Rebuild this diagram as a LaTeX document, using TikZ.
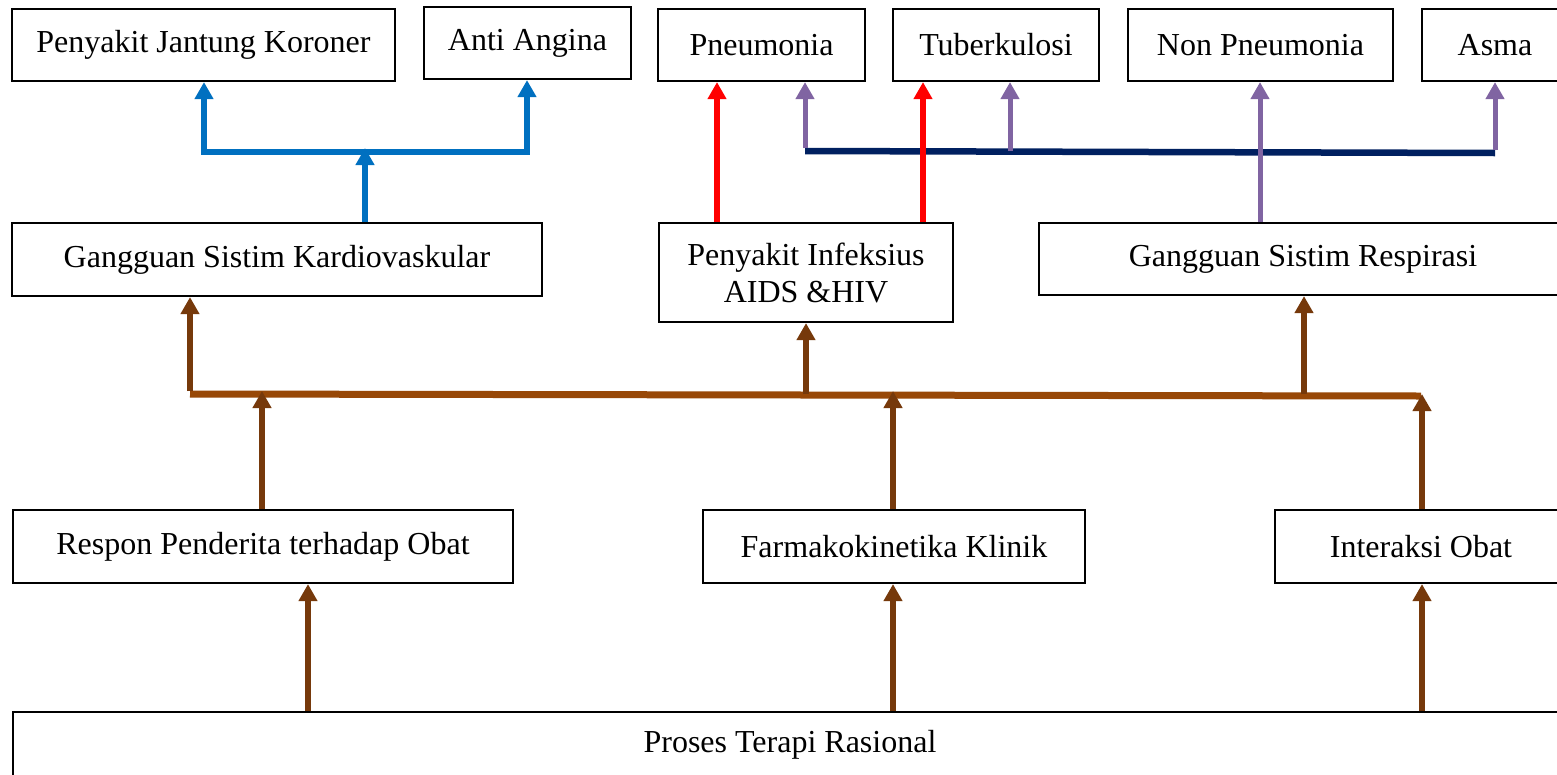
\documentclass[tikz,border=0pt]{standalone}
\usepackage{fontspec}
\setmainfont{Liberation Serif}
\usetikzlibrary{arrows.meta}
\definecolor{cblue}{HTML}{0070C0}
\definecolor{cred}{HTML}{FF0000}
\definecolor{cpurp}{HTML}{8064A2}
\definecolor{cnavy}{HTML}{002060}
\definecolor{cbrown}{HTML}{76390B}
\definecolor{cbus}{HTML}{984807}
\begin{document}
\begin{tikzpicture}[x=1pt,y=-1pt,
  box/.style={draw=black, line width=2.2pt, rectangle, inner sep=0pt,
    font=\fontsize{32}{37}\selectfont, align=center},
  arr/.style={line width=5.5pt, -{Triangle[length=17pt,width=18pt]}},
  brownarr/.style={arr, draw=cbrown},
  bluearr/.style={arr, draw=cblue},
  redarr/.style={arr, draw=cred},
  purparr/.style={arr, draw=cpurp, line width=5pt},
  brownbus/.style={draw=cbus, line width=7pt},
  navybus/.style={draw=cnavy, line width=6.5pt},
  bluebus/.style={draw=cblue, line width=5.5pt}]
\useasboundingbox (0,0) rectangle (1557,774);
\clip (0,0) rectangle (1557,774);
\fill[white] (0,0) rectangle (1557,774);

% top row
\node[box, minimum width=383pt, minimum height=72pt] (pjk) at (203.5,45) {Penyakit Jantung Koroner};
\node[box, minimum width=207pt, minimum height=72pt] (anti) at (527.5,43) {Anti Angina};
\node[box, minimum width=207pt, minimum height=72pt] (pneu) at (761.5,45) {Pneumonia};
\node[box, minimum width=206pt, minimum height=72pt] (tb) at (996,45) {Tuberkulosi};
\node[box, minimum width=265pt, minimum height=72pt] (nonp) at (1260.5,45) {Non Pneumonia};
\node[box, minimum width=146pt, minimum height=72pt] (asma) at (1495,45) {Asma};

% second row
\node[box, minimum width=530pt, minimum height=73pt] (kardio) at (277,259.5) {Gangguan Sistim Kardiovaskular};
\node[box, minimum width=294pt, minimum height=99pt] (infek) at (806,272.5) {Penyakit Infeksius\\AIDS \&HIV};
\node[box, minimum width=528pt, minimum height=72pt] (resp) at (1303,259) {Gangguan Sistim Respirasi};

% third row
\node[box, minimum width=500pt, minimum height=73pt] (respon) at (263,546.5) {Respon Penderita terhadap Obat};
\node[box, minimum width=382pt, minimum height=73pt] (farm) at (894,546.5) {Farmakokinetika Klinik};
\node[box, minimum width=292pt, minimum height=73pt] (inter) at (1421,546.5) {Interaksi Obat};

% bottom
\node[box, minimum width=1554pt, minimum height=66pt] (proses) at (790,745) {Proses Terapi Rasional};

% x positions
\coordinate (xa) at (308,0);
\coordinate (xb) at (262,0);
\coordinate (xc) at (190,0);
\coordinate (xd) at (204,0);
\coordinate (xe) at (527,0);
\coordinate (xf) at (365,0);
\coordinate (xg) at (717,0);
\coordinate (xh) at (923,0);
\coordinate (xi) at (805,0);
\coordinate (xj) at (1010,0);
\coordinate (xk) at (1260,0);
\coordinate (xl) at (1495,0);
\coordinate (xm) at (893,0);
\coordinate (xn) at (1422,0);
\coordinate (xo) at (1304,0);

% bus coordinates
\coordinate (bbL) at (190,394);
\coordinate (bbR) at (1421,396);
\coordinate (blL) at (204,152);
\coordinate (blR) at (527,152);
\coordinate (nvL) at (805,151);
\coordinate (nvR) at (1495,153);

% buses
\draw[brownbus] (bbL) -- (bbR);
\draw[bluebus, line cap=rect] (blL) -- (blR);
\draw[navybus] (nvL) -- (nvR);

% bottom to third row
\draw[brownarr] (proses.north -| xa) -- (respon.south -| xa);
\draw[brownarr] (proses.north -| xm) -- (farm.south -| xm);
\draw[brownarr] (proses.north -| xn) -- (inter.south -| xn);

% third row to brown bus
\draw[brownarr] (respon.north -| xb) -- ([yshift=3pt]bbL -| xb);
\draw[brownarr] (farm.north -| xm) -- ([yshift=3pt]bbL -| xm);
\draw[brownarr] (inter.north -| xn) -- ([yshift=2pt]bbR -| xn);

% brown bus to second row
\draw[brownarr] ([yshift=3pt]bbL) -- (kardio.south -| xc);
\draw[brownarr] (bbL -| infek.south) -- (infek.south);
\draw[brownarr] (bbL -| xo) -- (resp.south -| xo);

% blue
\draw[bluearr] (kardio.north -| xf) -- ([yshift=4pt]blL -| xf);
\draw[bluearr] ([yshift=2pt]blL) -- (pjk.south -| xd);
\draw[bluearr] ([yshift=2pt]blR) -- (anti.south -| xe);

% red
\draw[redarr] (infek.north -| xg) -- (pneu.south -| xg);
\draw[redarr] (infek.north -| xh) -- (tb.south -| xh);

% purple
\draw[purparr] ([yshift=3pt]nvL) -- (pneu.south -| xi);
\draw[purparr] (nvL -| xj) -- (tb.south -| xj);
\draw[purparr] (resp.north -| xk) -- (nonp.south -| xk);
\draw[purparr] ([yshift=3pt]nvR) -- (asma.south -| xl);
\end{tikzpicture}
\end{document}
